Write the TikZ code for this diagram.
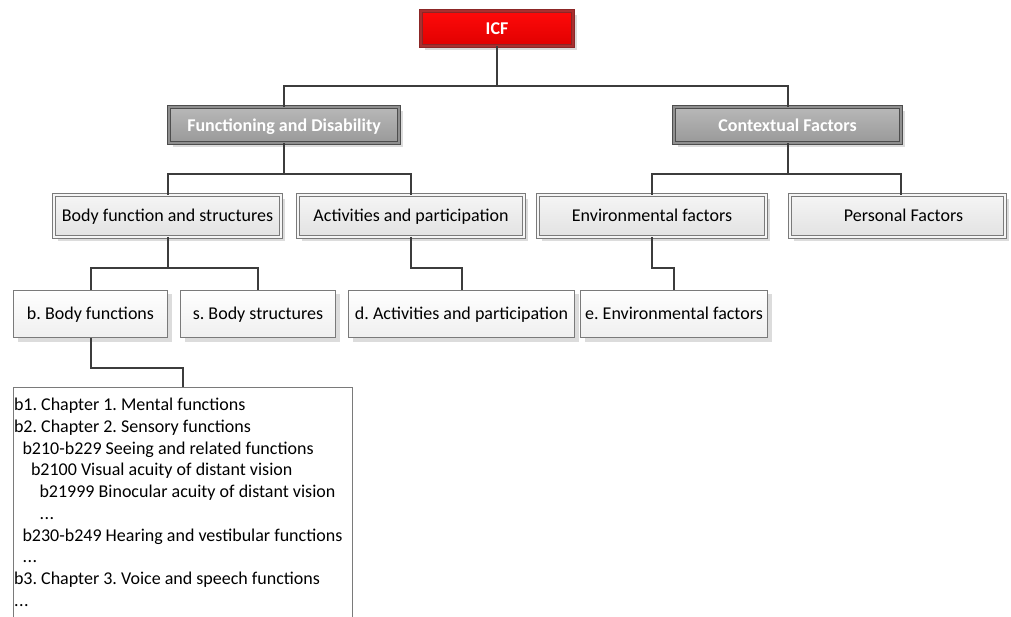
\documentclass[tikz,border=0pt]{standalone}
\usepackage{fontspec}
\setmainfont{Carlito}
\frenchspacing
\usetikzlibrary{shadows}

\definecolor{wire}{HTML}{3C3C3C}
\definecolor{redtop}{HTML}{FF0A0A}
\definecolor{redbot}{HTML}{E00000}
\definecolor{redrim}{HTML}{8C2626}
\definecolor{redgap}{HTML}{A83030}
\definecolor{greytop}{HTML}{B8B8B8}
\definecolor{greybot}{HTML}{999999}
\definecolor{greyrim}{HTML}{4D4D4D}
\definecolor{greygap}{HTML}{8F8F8F}
\definecolor{lighttop}{HTML}{F5F5F5}
\definecolor{lightbot}{HTML}{E2E2E2}
\definecolor{lightrim}{HTML}{7A7A7A}
\definecolor{paletop}{HTML}{FFFFFF}
\definecolor{palebot}{HTML}{EFEFEF}
\definecolor{shade}{HTML}{DCDCDC}

\tikzset{
  boxfont/.style={font=\fontsize{18pt}{21pt}\selectfont},
  capsmid/.style={text height=14pt, text depth=2.4pt},
  shadowed/.style={drop shadow={shadow xshift=4pt, shadow yshift=-4pt, fill=shade, draw=none, opacity=1}},
  rootbox/.style={shadowed, capsmid, draw=redrim, line width=1.3pt, double=redgap, double distance=1.2pt,
    top color=redtop, bottom color=redbot, text=white, font=\fontsize{18pt}{21pt}\selectfont\bfseries,
    inner sep=0pt, outer sep=0pt},
  groupbox/.style={shadowed, text height=15.5pt, text depth=1.9pt, draw=greyrim, line width=1.2pt,
    double=greygap, double distance=1.4pt,
    top color=greytop, bottom color=greybot, text=white, font=\fontsize{18pt}{21pt}\selectfont\bfseries,
    inner sep=0pt, outer sep=0pt},
  partbox/.style={boxfont, capsmid, shadowed, draw=lightrim, line width=0.9pt, double=lighttop, double distance=2pt,
    top color=lighttop, bottom color=lightbot, text=black, inner sep=0pt, outer sep=0pt},
  leafbox/.style={boxfont, capsmid, shadowed, draw=lightrim, line width=0.9pt,
    top color=paletop, bottom color=palebot, text=black, inner sep=0pt, outer sep=0pt},
  listbox/.style={draw=lightrim, line width=0.9pt, fill=white, inner sep=0pt, outer sep=0pt},
  listline/.style={boxfont, text=black, inner sep=0pt, anchor=base west},
  link/.style={draw=wire, line width=2pt},
}

\begin{document}
\begin{tikzpicture}[x=1pt, y=-1pt]
\useasboundingbox[fill=white] (0,0) rectangle (1011,617);

% root
\node[rootbox, minimum width=152pt, minimum height=35pt] (icf) at (497,28.5) {ICF};

% main groups
\node[groupbox, minimum width=230pt, minimum height=36pt] (fd) at (284,125) {Functioning and Disability};
\node[groupbox, minimum width=227pt, minimum height=36pt] (cf) at (787.5,125) {Contextual Factors};

% components
\node[partbox, minimum width=227pt, minimum height=42pt] (bfs) at (167.5,216) {Body function and structures};
\node[partbox, minimum width=226pt, minimum height=42pt] (act) at (411,216) {Activities and participation};
\node[partbox, minimum width=228pt, minimum height=42pt] (env) at (652,216) {Environmental factors};
\node[partbox, minimum width=215pt, minimum height=42pt] (pf) at (897.5,216) {\hspace*{12pt}Personal Factors};

% classifications
\node[leafbox, minimum width=154pt, minimum height=47pt] (bf) at (90.5,314) {b. Body functions};
\node[leafbox, minimum width=155pt, minimum height=47pt] (bs) at (258,314) {s. Body structures};
\node[leafbox, minimum width=226pt, minimum height=47pt] (da) at (461.5,314) {d. Activities and participation};
\node[leafbox, minimum width=187pt, minimum height=47pt] (ea) at (674,314) {e. Environmental factors};

% chapter list (runs past the lower edge)
\node[listbox, anchor=north west, minimum width=339pt, minimum height=260pt] (list) at (13,387) {};
\foreach \i/\ind/\t in {
  1/0/{b1. Chapter 1. Mental functions},
  2/0/{b2. Chapter 2. Sensory functions},
  3/8.5/{b210-b229 Seeing and related functions},
  4/17/{b2100 Visual acuity of distant vision},
  5/25.5/{b21999 Binocular acuity of distant vision},
  6/25.5/{.\kern0.5pt.\kern0.5pt.},
  7/8.5/{b230-b249 Hearing and vestibular functions},
  8/8.5/{.\kern0.5pt.\kern0.5pt.},
  9/0/{b3. Chapter 3. Voice and speech functions},
  10/0/{.\kern0.5pt.\kern0.5pt.}}
  \node[listline] (line\i) at ({13.8+\ind},{388.8+21.75*\i}) {\t};

% connectors
\coordinate (b0) at (497,86);
\coordinate (b1) at (284,174);
\coordinate (b2) at (787.5,174);
\coordinate (b3) at (167.5,268);
\coordinate (b4) at (411,268);
\coordinate (b5) at (652,268);
\coordinate (b6) at (90.5,368);

\draw[link] (icf.south) -- (b0) -| (fd.north);
\draw[link] (b0) -| (cf.north);
\draw[link] (fd.south) -- (b1) -| (bfs.north);
\draw[link] (b1) -| (act.north);
\draw[link] (cf.south) -- (b2) -| (env.north);
\draw[link] (b2) -| (pf.north -| cf.east);
\draw[link] (bfs.south) -- (b3) -| (bf.north);
\draw[link] (b3) -| (bs.north);
\draw[link] (act.south) -- (b4) -| (da.north);
\draw[link] (env.south) -- (b5) -| (ea.north);
\draw[link] (bf.south) -- (b6) -| (list.north);
\end{tikzpicture}
\end{document}
